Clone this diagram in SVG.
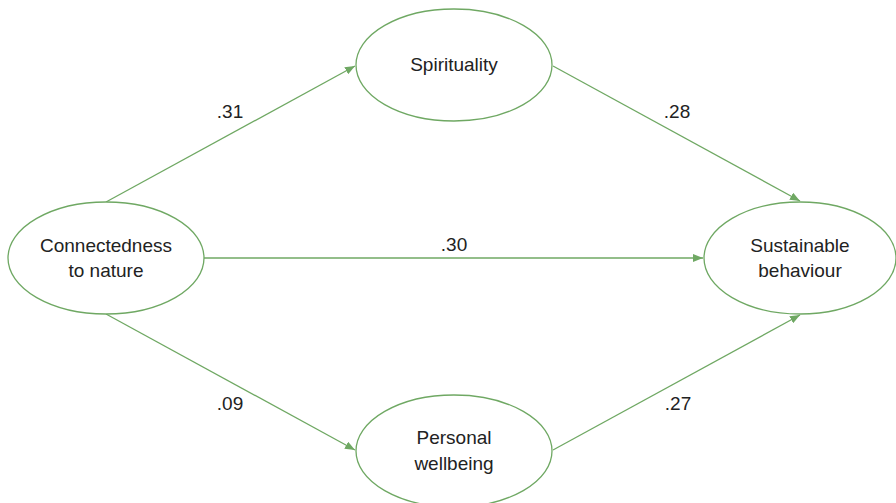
<svg xmlns="http://www.w3.org/2000/svg" width="896" height="503" viewBox="0 0 896 503">
<defs>
<marker id="arr" viewBox="0 0 10 8" refX="10" refY="4" markerWidth="10" markerHeight="8" markerUnits="userSpaceOnUse" orient="auto">
<path d="M0,0 L10,4 L0,8 z" fill="#6fa863"/>
</marker>
<style>
.node ellipse{fill:#fff;stroke:#6fa863;stroke-width:1.3}
.node text{font-family:"Liberation Sans",Arial,sans-serif;font-size:19px;fill:#222;text-anchor:middle}
.edge{stroke:#6fa863;stroke-width:1.3;fill:none;marker-end:url(#arr)}
.lbl{font-family:"Liberation Sans",Arial,sans-serif;font-size:19px;fill:#222;text-anchor:middle}
</style>
</defs>
<rect width="896" height="503" fill="#fff"/>
<g id="connectors">
<line class="edge" x1="106" y1="202" x2="355" y2="66"/>
<line class="edge" x1="553" y1="66" x2="800" y2="201"/>
<line class="edge" x1="204" y1="258" x2="703" y2="258"/>
<line class="edge" x1="106" y1="314" x2="355" y2="450"/>
<line class="edge" x1="553" y1="450" x2="800" y2="315"/>
<text class="lbl" x="230" y="118">.31</text>
<text class="lbl" x="677" y="118">.28</text>
<text class="lbl" x="454" y="251">.30</text>
<text class="lbl" x="230" y="410">.09</text>
<text class="lbl" x="678" y="410">.27</text>
</g>
<g id="connectedness" class="node">
<ellipse cx="106" cy="258" rx="98" ry="56"/>
<text x="106" y="252">Connectedness</text>
<text x="106" y="277">to nature</text>
</g>
<g id="spirituality" class="node">
<ellipse cx="454" cy="65" rx="98" ry="56"/>
<text x="454" y="71">Spirituality</text>
</g>
<g id="wellbeing" class="node">
<ellipse cx="454" cy="451" rx="98" ry="56"/>
<text x="454" y="444">Personal</text>
<text x="454" y="470">wellbeing</text>
</g>
<g id="sustainable" class="node">
<ellipse cx="800" cy="258" rx="96" ry="56"/>
<text x="800" y="252">Sustainable</text>
<text x="800" y="277">behaviour</text>
</g>
</svg>
